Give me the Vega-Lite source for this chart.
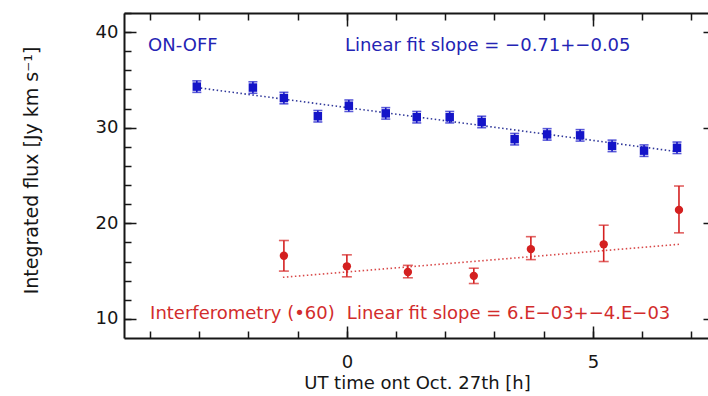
{
  "$schema": "https://vega.github.io/schema/vega-lite/v6.json",
  "width": 584,
  "height": 325,
  "autosize": {"type": "none"},
  "padding": {"left": 124, "top": 13, "right": 0, "bottom": 58},
  "background": "white",
  "config": {
    "view": {"stroke": null},
    "axis": {
      "grid": false,
      "domainColor": "#161616",
      "domainWidth": 2,
      "tickColor": "#161616",
      "tickWidth": 1.5,
      "labelFont": "DejaVu Sans",
      "labelFontSize": 18,
      "labelColor": "#161616",
      "titleFont": "DejaVu Sans",
      "titleFontSize": 18,
      "titleFontWeight": "normal",
      "titleColor": "#161616"
    }
  },
  "datasets": {
    "obs": [
      {"series": "ON-OFF", "t": -3.05, "flux": 34.3, "lo": 33.7, "hi": 34.9},
      {"series": "ON-OFF", "t": -1.91, "flux": 34.2, "lo": 33.6, "hi": 34.8},
      {"series": "ON-OFF", "t": -1.28, "flux": 33.1, "lo": 32.5, "hi": 33.7},
      {"series": "ON-OFF", "t": -0.59, "flux": 31.2, "lo": 30.6, "hi": 31.8},
      {"series": "ON-OFF", "t": 0.04, "flux": 32.3, "lo": 31.7, "hi": 32.9},
      {"series": "ON-OFF", "t": 0.79, "flux": 31.5, "lo": 30.9, "hi": 32.1},
      {"series": "ON-OFF", "t": 1.42, "flux": 31.1, "lo": 30.5, "hi": 31.7},
      {"series": "ON-OFF", "t": 2.09, "flux": 31.1, "lo": 30.5, "hi": 31.7},
      {"series": "ON-OFF", "t": 2.74, "flux": 30.6, "lo": 30.0, "hi": 31.2},
      {"series": "ON-OFF", "t": 3.41, "flux": 28.8, "lo": 28.2, "hi": 29.4},
      {"series": "ON-OFF", "t": 4.07, "flux": 29.3, "lo": 28.7, "hi": 29.9},
      {"series": "ON-OFF", "t": 4.74, "flux": 29.2, "lo": 28.6, "hi": 29.8},
      {"series": "ON-OFF", "t": 5.39, "flux": 28.1, "lo": 27.5, "hi": 28.7},
      {"series": "ON-OFF", "t": 6.04, "flux": 27.6, "lo": 27.0, "hi": 28.2},
      {"series": "ON-OFF", "t": 6.71, "flux": 27.9, "lo": 27.3, "hi": 28.5},
      {"series": "Interferometry", "t": -1.28, "flux": 16.6, "lo": 15.0, "hi": 18.2},
      {"series": "Interferometry", "t": 0.0, "flux": 15.5, "lo": 14.4, "hi": 16.7},
      {"series": "Interferometry", "t": 1.24, "flux": 14.9, "lo": 14.3, "hi": 15.6},
      {"series": "Interferometry", "t": 2.58, "flux": 14.5, "lo": 13.7, "hi": 15.3},
      {"series": "Interferometry", "t": 3.74, "flux": 17.3, "lo": 16.2, "hi": 18.6},
      {"series": "Interferometry", "t": 5.22, "flux": 17.8, "lo": 16.0, "hi": 19.8},
      {"series": "Interferometry", "t": 6.75, "flux": 21.4, "lo": 19.0, "hi": 23.9}
    ],
    "fits": [
      {"series": "ON-OFF", "t": -3.05, "flux": 34.2},
      {"series": "ON-OFF", "t": 6.71, "flux": 27.5},
      {"series": "Interferometry", "t": -1.3, "flux": 14.35},
      {"series": "Interferometry", "t": 6.75, "flux": 17.8}
    ],
    "notes": [
      {"series": "ON-OFF", "t": -4.04, "flux": 38.0, "label": "ON-OFF"},
      {"series": "ON-OFF", "t": -0.04, "flux": 38.0, "label": "Linear fit slope = −0.71+−0.05"},
      {"series": "Interferometry", "t": -4.0, "flux": 9.98, "label": "Interferometry (•60)"},
      {"series": "Interferometry", "t": 0.0, "flux": 9.98, "label": "Linear fit slope = 6.E−03+−4.E−03"}
    ]
  },
  "resolve": {"axis": {"x": "independent", "y": "independent"}},
  "layer": [
    {
      "data": {"name": "fits"},
      "transform": [{"filter": "datum.series === 'ON-OFF'"}],
      "mark": {"type": "line", "color": "#30389a", "strokeDash": [1.5, 2.5], "strokeWidth": 1.6},
      "encoding": {
        "x": {"field": "t", "type": "quantitative", "scale": {"domain": [-4.53, 7.34], "nice": false, "zero": false},
              "axis": {"orient": "bottom", "values": [0, 5], "tickSize": -12, "labels": false, "title": null, "domain": true}},
        "y": {"field": "flux", "type": "quantitative", "scale": {"domain": [8, 42], "nice": false, "zero": false},
              "axis": {"orient": "left", "values": [10, 20, 30, 40], "tickSize": -12, "labels": false, "title": null, "domain": true}}
      }
    },
    {
      "data": {"name": "fits"},
      "transform": [{"filter": "datum.series === 'Interferometry'"}],
      "mark": {"type": "line", "color": "#d84848", "strokeDash": [1.5, 2.5], "strokeWidth": 1.6},
      "encoding": {
        "x": {"field": "t", "type": "quantitative", "scale": {"domain": [-4.53, 7.34], "nice": false, "zero": false},
              "axis": {"orient": "bottom", "values": [-4, -3, -2, -1, 0, 1, 2, 3, 4, 5, 6, 7], "tickSize": -7, "labels": false, "title": null, "domain": false}},
        "y": {"field": "flux", "type": "quantitative", "scale": {"domain": [8, 42], "nice": false, "zero": false},
              "axis": {"orient": "left", "values": [10, 12, 14, 16, 18, 20, 22, 24, 26, 28, 30, 32, 34, 36, 38, 40, 42], "tickSize": -7, "labels": false, "title": null, "domain": false}}
      }
    },
    {
      "data": {"name": "obs"},
      "transform": [{"filter": "datum.series === 'ON-OFF'"}],
      "mark": {"type": "errorbar", "color": "#1414c8", "ticks": {"size": 9, "thickness": 1.6}, "rule": {"strokeWidth": 1.6}},
      "encoding": {
        "x": {"field": "t", "type": "quantitative", "scale": {"domain": [-4.53, 7.34], "nice": false, "zero": false}, "axis": null},
        "y": {"field": "lo", "type": "quantitative", "scale": {"domain": [8, 42], "nice": false, "zero": false}, "axis": null},
        "y2": {"field": "hi"}
      }
    },
    {
      "data": {"name": "obs"},
      "transform": [{"filter": "datum.series === 'Interferometry'"}],
      "mark": {"type": "errorbar", "color": "#d42020", "ticks": {"size": 10, "thickness": 1.6}, "rule": {"strokeWidth": 1.6}},
      "encoding": {
        "x": {"field": "t", "type": "quantitative", "scale": {"domain": [-4.53, 7.34], "nice": false, "zero": false}, "axis": null},
        "y": {"field": "lo", "type": "quantitative", "scale": {"domain": [8, 42], "nice": false, "zero": false}, "axis": null},
        "y2": {"field": "hi"}
      }
    },
    {
      "data": {"name": "obs"},
      "transform": [{"filter": "datum.series === 'ON-OFF'"}],
      "mark": {"type": "point", "shape": "square", "filled": true, "size": 72, "color": "#1414c8", "opacity": 1},
      "encoding": {
        "x": {"field": "t", "type": "quantitative", "scale": {"domain": [-4.53, 7.34], "nice": false, "zero": false},
              "axis": {"orient": "top", "values": [0, 5], "tickSize": -13, "labels": false, "title": null, "domain": true}},
        "y": {"field": "flux", "type": "quantitative", "scale": {"domain": [8, 42], "nice": false, "zero": false},
              "axis": {"orient": "right", "offset": 7, "values": [10, 20, 30, 40], "tickSize": -12, "labels": false, "title": null, "domain": true}}
      }
    },
    {
      "data": {"name": "obs"},
      "transform": [{"filter": "datum.series === 'Interferometry'"}],
      "mark": {"type": "point", "shape": "circle", "filled": true, "size": 70, "color": "#d42020", "opacity": 1},
      "encoding": {
        "x": {"field": "t", "type": "quantitative", "scale": {"domain": [-4.53, 7.34], "nice": false, "zero": false},
              "axis": {"orient": "top", "values": [-4, -3, -2, -1, 0, 1, 2, 3, 4, 5, 6, 7], "tickSize": -7, "labels": false, "title": null, "domain": false}},
        "y": {"field": "flux", "type": "quantitative", "scale": {"domain": [8, 42], "nice": false, "zero": false},
              "axis": {"orient": "right", "offset": 7, "values": [10, 12, 14, 16, 18, 20, 22, 24, 26, 28, 30, 32, 34, 36, 38, 40, 42], "tickSize": -7, "labels": false, "title": null, "domain": false}}
      }
    },
    {
      "data": {"name": "notes"},
      "transform": [{"filter": "datum.series === 'ON-OFF'"}],
      "mark": {"type": "text", "align": "left", "baseline": "alphabetic", "font": "DejaVu Sans", "fontSize": 18, "color": "#2424b4"},
      "encoding": {
        "x": {"field": "t", "type": "quantitative", "scale": {"domain": [-4.53, 7.34], "nice": false, "zero": false},
              "axis": {"orient": "bottom", "values": [0, 5], "ticks": false, "domain": false, "labelPadding": 15,
                       "title": "UT time ont Oct. 27th [h]", "titleX": 293, "titleY": 50, "titleBaseline": "alphabetic"}},
        "y": {"field": "flux", "type": "quantitative", "scale": {"domain": [8, 42], "nice": false, "zero": false},
              "axis": {"orient": "left", "values": [10, 20, 30, 40], "ticks": false, "domain": false, "labelPadding": 6,
                       "title": "Integrated flux [Jy km s⁻¹]", "titleFontSize": 19, "titleX": -87, "titleY": 157, "titleBaseline": "alphabetic", "titleAngle": -90}},
        "text": {"field": "label"}
      }
    },
    {
      "data": {"name": "notes"},
      "transform": [{"filter": "datum.series === 'Interferometry'"}],
      "mark": {"type": "text", "align": "left", "baseline": "alphabetic", "font": "DejaVu Sans", "fontSize": 18, "color": "#d22c2c"},
      "encoding": {
        "x": {"field": "t", "type": "quantitative", "scale": {"domain": [-4.53, 7.34], "nice": false, "zero": false}, "axis": null},
        "y": {"field": "flux", "type": "quantitative", "scale": {"domain": [8, 42], "nice": false, "zero": false}, "axis": null},
        "text": {"field": "label"}
      }
    }
  ]
}
